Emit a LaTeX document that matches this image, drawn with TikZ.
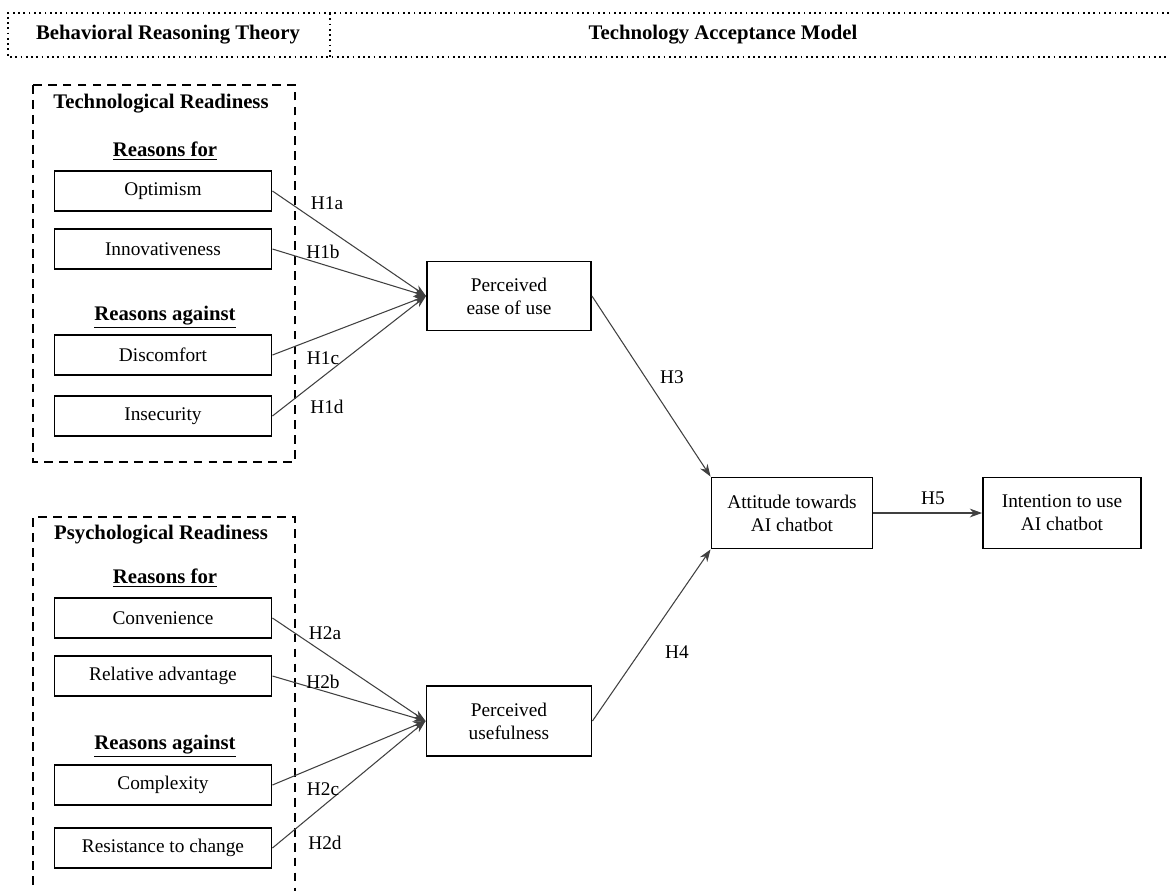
\documentclass[tikz,border=0pt]{standalone}
\usepackage{fontspec}
\setmainfont{Liberation Serif}
\usetikzlibrary{arrows.meta}
\newcommand{\headfont}{\fontsize{11.8}{14}\selectfont\bfseries}
\begin{document}
\begin{tikzpicture}[x=0.02cm, y=-0.02cm, every node/.style={font=\fontsize{11}{13}\selectfont}]
  \tikzstyle{factor} = [draw, line width=1.1pt, minimum width=4.34cm, minimum height=0.81cm, inner sep=1pt]
  \tikzstyle{construct} = [draw, line width=1.1pt, align=center, inner sep=1pt]
  \tikzstyle{path} = [->, >={Stealth[length=7pt, width=5pt]}, draw=black!75, line width=0.6pt]
  \tikzstyle{hyp} = [inner sep=1pt]
  \tikzstyle{title} = [font=\headfont]
  \tikzstyle{group} = [line width=1.1pt, dash pattern=on 5pt off 3.5pt]
  \useasboundingbox (0,0) rectangle (1169,890);
  % header
  \draw[dotted, line width=1pt] (1169,13) -- (8,13) -- (8,57) -- (1169,57);
  \draw[dotted, line width=1pt] (330,13) -- (330,57);
  \node[title] (brt) at (168,35) {Behavioral Reasoning Theory};
  \node[title] (tam) at (723,35) {Technology Acceptance Model};
  % readiness groups
  \draw[group] (33,85) rectangle (295,462);
  \draw[group] (33,900) -- (33,517) -- (295,517) -- (295,900);
  \node[title] (tr) at (161,104) {Technological Readiness};
  \node[title] (pr) at (161,535) {Psychological Readiness};
  \node[title] (trfor) at (165,151) {\underline{Reasons for}};
  \node[title] (tragainst) at (165,317) {\underline{Reasons against}};
  \node[title] (prfor) at (165,578) {\underline{Reasons for}};
  \node[title] (pragainst) at (165,746) {\underline{Reasons against}};
  \node[factor] (opt) at (163,191) {Optimism};
  \node[factor] (inn) at (163,249) {Innovativeness};
  \node[factor] (dis) at (163,355) {Discomfort};
  \node[factor] (ins) at (163,416) {Insecurity};
  \node[factor] (con) at (163,618) {Convenience};
  \node[factor] (rel) at (163,676) {Relative advantage};
  \node[factor] (com) at (163,785) {Complexity};
  \node[factor] (res) at (163,848) {Resistance to change};
  % TAM constructs
  \node[construct, minimum width=3.28cm, minimum height=1.38cm] (peou) at (509,296) {Perceived\\ease of use};
  \node[construct, minimum width=3.30cm, minimum height=1.40cm] (pu) at (509,721) {Perceived\\usefulness};
  \node[construct, minimum width=3.22cm, minimum height=1.42cm] (att) at (792,513) {Attitude towards\\AI chatbot};
  \node[construct, minimum width=3.16cm, minimum height=1.42cm] (int) at (1062,513) {Intention to use\\AI chatbot};
  % paths
  \draw[path] (opt.east) -- (peou.west);
  \draw[path] (inn.east) -- (peou.west);
  \draw[path] (dis.east) -- (peou.west);
  \draw[path] (ins.east) -- (peou.west);
  \draw[path] (con.east) -- (pu.west);
  \draw[path] (rel.east) -- (pu.west);
  \draw[path] (com.east) -- (pu.west);
  \draw[path] (res.east) -- (pu.west);
  \draw[path] (peou.east) -- (att.north west);
  \draw[path] (pu.east) -- (att.south west);
  \draw[path] (att.east) -- (int.west);
  % hypothesis labels
  \node[hyp] (h1a) at (327,203) {H1a};
  \node[hyp] (h1b) at (323,252) {H1b};
  \node[hyp] (h1c) at (323,358) {H1c};
  \node[hyp] (h1d) at (327,407) {H1d};
  \node[hyp] (h2a) at (325,633) {H2a};
  \node[hyp] (h2b) at (323,682) {H2b};
  \node[hyp] (h2c) at (323,789) {H2c};
  \node[hyp] (h2d) at (325,843) {H2d};
  \node[hyp] (h3) at (672,377) {H3};
  \node[hyp] (h4) at (677,652) {H4};
  \node[hyp] (h5) at (933,498) {H5};
\end{tikzpicture}
\end{document}
